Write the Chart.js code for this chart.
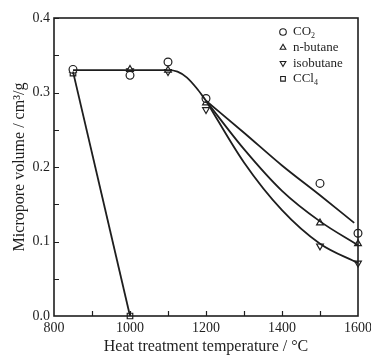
<!DOCTYPE html>
<html>
<head>
<meta charset="utf-8">
<script src="https://cdn.jsdelivr.net/npm/chart.js@4/dist/chart.umd.min.js"></script>
<style>
  html, body { margin: 0; padding: 0; background: #fff; }
  #wrap { width: 371px; height: 356px; }
</style>
</head>
<body>
<div id="wrap"><canvas id="micropore"></canvas></div>
<script>
// measured points (temperature, micropore volume)
const co2Pts = [[850, 0.331], [1000, 0.323], [1100, 0.341], [1200, 0.292], [1500, 0.178], [1600, 0.111]];
const nbutanePts = [[850, 0.330], [1000, 0.331], [1100, 0.330], [1200, 0.286], [1500, 0.125], [1600, 0.097]];
const isobutanePts = [[1000, 0.329], [1100, 0.328], [1200, 0.277], [1500, 0.094], [1600, 0.071]];
const ccl4Pts = [[850, 0.326], [1000, 0.0]];

// fitted curves (shared plateau and bend up to 1200 degC)
const bendFit = [[850, 0.33], [1000, 0.33], [1100, 0.33], [1125, 0.328], [1150, 0.32], [1175, 0.306], [1200, 0.289]];
const co2Fit = [[1300, 0.246], [1400, 0.202], [1500, 0.162], [1590, 0.125]];
const nbutaneFit = [[1300, 0.224], [1400, 0.168], [1500, 0.127], [1600, 0.095]];
const isobutaneFit = [[1300, 0.206], [1400, 0.142], [1500, 0.097], [1600, 0.071]];
const ccl4Fit = [[850, 0.328], [1000, 0.0]];

const xTicks = [800, 1000, 1200, 1400, 1600];
const yTicks = [0.0, 0.1, 0.2, 0.3, 0.4];

const ink = '#1e1e1e';
const serif = '"Liberation Serif", "Times New Roman", serif';

const toXY = arr => arr.map(p => ({x: p[0], y: p[1]}));

function fitLine(pts) {
  return {
    type: 'line', data: toXY(pts), borderColor: ink, borderWidth: 1.8,
    pointRadius: 0, fill: false, cubicInterpolationMode: 'monotone', clip: false,
  };
}
function markers(pts, style, label) {
  return {
    type: 'scatter', label: label, data: toXY(pts), pointStyle: style,
    pointRadius: 3.9, pointBorderWidth: 1.2, pointBorderColor: ink,
    pointBackgroundColor: '#fff', clip: false,
  };
}

// inward ticks on the left and bottom axes
const innerTicks = {
  id: 'innerTicks',
  afterDatasetsDraw(chart) {
    const {ctx, chartArea: a, scales} = chart;
    ctx.save();
    ctx.strokeStyle = ink;
    ctx.lineWidth = 1.2;
    ctx.beginPath();
    for (let v = 900; v < 1600; v += 100) {
      const px = Math.round(scales.x.getPixelForValue(v)) + 0.5;
      ctx.moveTo(px, a.bottom); ctx.lineTo(px, a.bottom - 5);
    }
    for (let v = 0.05; v < 0.4; v += 0.05) {
      const py = Math.round(scales.y.getPixelForValue(v)) + 0.5;
      ctx.moveTo(a.left, py); ctx.lineTo(a.left + 5, py);
    }
    ctx.stroke();
    ctx.lineWidth = 1.6;
    ctx.strokeRect(a.left, a.top, a.right - a.left, a.bottom - a.top);
    ctx.restore();
  }
};

// legend inside the plot, top right
const legendItems = [
  {style: 'circle', text: 'CO', sub: '2'},
  {style: 'triangle', text: 'n-butane'},
  {style: 'triangleDown', text: 'isobutane'},
  {style: 'rect', text: 'CCl', sub: '4'},
];
const insetLegend = {
  id: 'insetLegend',
  afterDraw(chart) {
    const {ctx, chartArea: a} = chart;
    ctx.save();
    ctx.textBaseline = 'middle';
    legendItems.forEach((it, i) => {
      const y = a.top + 14 + i * 15.6;
      const mx = a.left + 229;
      ctx.lineWidth = 1.1;
      ctx.strokeStyle = ink;
      ctx.fillStyle = '#fff';
      if (it.style === 'triangleDown') {
        ctx.save();
        ctx.translate(mx, y);
        ctx.rotate(Math.PI);
        Chart.helpers.drawPoint(ctx, {pointStyle: 'triangle', radius: 3.3, borderWidth: 1.1}, 0, 0);
        ctx.restore();
      } else {
        Chart.helpers.drawPoint(ctx, {pointStyle: it.style, radius: 3.3, borderWidth: 1.1}, mx, y);
      }
      ctx.fillStyle = ink;
      ctx.font = '13px ' + serif;
      ctx.fillText(it.text, mx + 10, y);
      if (it.sub) {
        const w = ctx.measureText(it.text).width;
        ctx.font = '8px ' + serif;
        ctx.fillText(it.sub, mx + 10 + w, y + 4);
      }
    });
    ctx.restore();
  }
};

const isobutaneSet = markers(isobutanePts, 'triangle', 'isobutane');
isobutaneSet.rotation = 180;

const lastBend = bendFit[bendFit.length - 1];

new Chart(document.getElementById('micropore'), {
  data: {
    datasets: [
      fitLine(bendFit),
      fitLine([lastBend].concat(co2Fit)),
      fitLine([lastBend].concat(nbutaneFit)),
      fitLine([lastBend].concat(isobutaneFit)),
      fitLine(ccl4Fit),
      markers(co2Pts, 'circle', 'CO2'),
      markers(nbutanePts, 'triangle', 'n-butane'),
      isobutaneSet,
      markers(ccl4Pts, 'rect', 'CCl4'),
    ],
  },
  options: {
    responsive: true,
    maintainAspectRatio: false,
    animation: false,
    layout: {padding: {top: 18, right: 13, left: 0, bottom: 0}},
    plugins: {legend: {display: false}, tooltip: {enabled: false}},
    scales: {
      x: {
        type: 'linear', min: 800, max: 1600,
        afterBuildTicks: s => { s.ticks = xTicks.map(v => ({value: v})); },
        afterFit: s => { s.height = 40; s.paddingLeft = 0; s.paddingRight = 0; },
        grid: {display: false, drawTicks: false, tickLength: 0},
        border: {display: false},
        ticks: {color: ink, font: {family: serif, size: 14}, padding: 4, maxRotation: 0,
          callback: v => String(v)},
        title: {display: true, text: 'Heat treatment temperature / \u00B0C', color: ink,
          font: {family: serif, size: 16}, padding: {top: 0, bottom: 0}},
      },
      y: {
        type: 'linear', min: 0, max: 0.4,
        afterBuildTicks: s => { s.ticks = yTicks.map(v => ({value: v})); },
        afterFit: s => { s.width = 54; s.paddingTop = 0; s.paddingBottom = 0; },
        grid: {display: false, drawTicks: false, tickLength: 0},
        border: {display: false},
        ticks: {color: ink, font: {family: serif, size: 14}, padding: 4,
          callback: v => v.toFixed(1)},
        title: {display: true, text: 'Micropore volume / cm\u00B3/g', color: ink,
          font: {family: serif, size: 16}, padding: {top: 10, bottom: 0}},
      },
    },
  },
  plugins: [innerTicks, insetLegend],
});
</script>
</body>
</html>
